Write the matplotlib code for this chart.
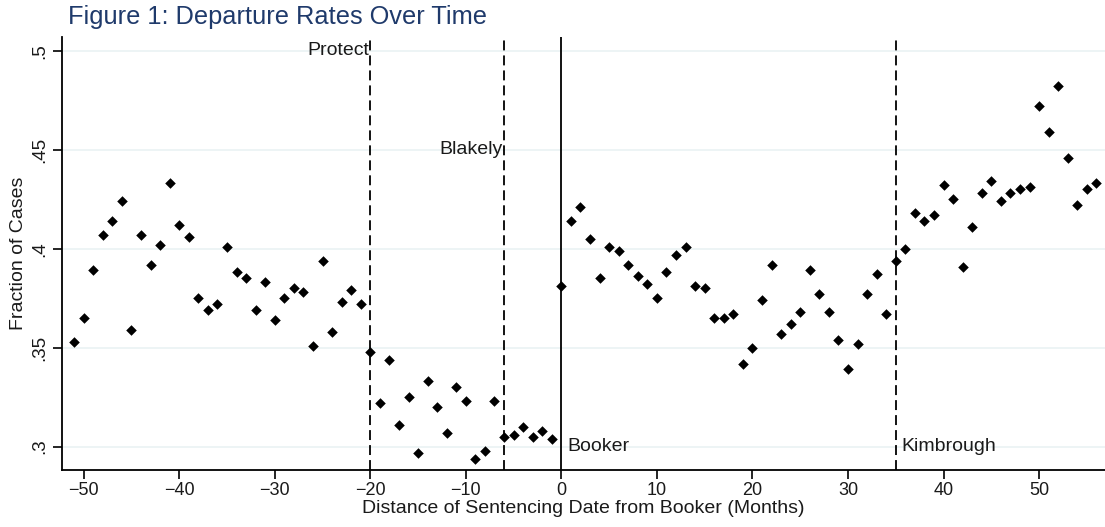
import matplotlib
matplotlib.use("Agg")
import matplotlib.pyplot as plt

plt.rcParams['font.family'] = ['Liberation Sans', 'DejaVu Sans']

months = list(range(-51, 57))
fraction = [
    0.353, 0.365, 0.389, 0.407, 0.414, 0.424, 0.359, 0.407, 0.392, 0.402,   # -51..-42
    0.433, 0.412, 0.406, 0.375, 0.369, 0.372, 0.401, 0.388, 0.385, 0.369,   # -41..-32
    0.383, 0.364, 0.375, 0.380, 0.378, 0.351, 0.394, 0.358, 0.373, 0.379,   # -31..-22
    0.372, 0.348, 0.322, 0.344, 0.311, 0.325, 0.297, 0.333, 0.320, 0.307,   # -21..-12
    0.330, 0.323, 0.294, 0.298, 0.323, 0.305, 0.306, 0.310, 0.305, 0.308,   # -11..-2
    0.304, 0.381, 0.414, 0.421, 0.405, 0.385, 0.401, 0.399, 0.392, 0.386,   # -1..8
    0.382, 0.375, 0.388, 0.397, 0.401, 0.381, 0.380, 0.365, 0.365, 0.367,   # 9..18
    0.342, 0.350, 0.374, 0.392, 0.357, 0.362, 0.368, 0.389, 0.377, 0.368,   # 19..28
    0.354, 0.339, 0.352, 0.377, 0.387, 0.367, 0.394, 0.400, 0.418, 0.414,   # 29..38
    0.417, 0.432, 0.425, 0.391, 0.411, 0.428, 0.434, 0.424, 0.428, 0.430,   # 39..48
    0.431, 0.472, 0.459, 0.482, 0.446, 0.422, 0.430, 0.433,                 # 49..56
]

events = ["Protect", "Blakely", "Booker", "Kimbrough"]
event_months = [-20, -6, 0, 35]
event_styles = ["dashed", "dashed", "solid", "dashed"]
event_label_y = [0.5, 0.45, 0.3, 0.3]
event_label_side = ["left", "left", "right", "right"]

yticks = [0.3, 0.35, 0.4, 0.45, 0.5]
ytick_labels = [".3", ".35", ".4", ".45", ".5"]
xticks = [-50, -40, -30, -20, -10, 0, 10, 20, 30, 40, 50]

fig = plt.figure(figsize=(11.05, 5.27), dpi=100)
ax = fig.add_axes([61.7 / 1105, 1 - 470 / 527, (1105 - 61.7) / 1105, (470 - 37.3) / 527])

ax.set_xlim(-52.3, 56.9)
ax.set_ylim(0.2882, 0.5068)

for y in yticks:
    ax.axhline(y, color="#eaf2f3", lw=1.2, zorder=0)

for m, st in zip(event_months, event_styles):
    if st == "dashed":
        ax.axvline(m, color="black", lw=1.3, ls=(0, (5.5, 2.8)), zorder=1)
    else:
        ax.axvline(m, color="black", lw=1.3, zorder=1)

ax.scatter(months, fraction, marker="D", s=29, color="black", zorder=3, linewidths=0)

for name, m, yl, side in zip(events, event_months, event_label_y, event_label_side):
    if side == "left":
        ax.text(m - 0.15, yl, name, ha="right", va="center", fontsize=14, color="#1a1a1a")
    else:
        ax.text(m + 0.6, yl, name, ha="left", va="center", fontsize=14, color="#1a1a1a")

ax.set_yticks(yticks)
ax.set_yticklabels(ytick_labels, rotation=90, va="center", fontsize=13.5, color="#1a1a1a")
ax.set_xticks(xticks)
ax.set_xticklabels([("\u2212" + str(-x)) if x < 0 else str(x) for x in xticks], fontsize=13, color="#1a1a1a")
ax.tick_params(axis="both", direction="out", length=6.5, width=1.2, color="black")
ax.tick_params(axis="y", pad=3)
ax.tick_params(axis="x", pad=2)

ax.spines["top"].set_visible(False)
ax.spines["right"].set_visible(False)
ax.spines["left"].set_linewidth(1.3)
ax.spines["bottom"].set_linewidth(1.3)

ax.set_xlabel("Distance of Sentencing Date from Booker (Months)", fontsize=14, color="#1a1a1a", labelpad=1)
ax.set_ylabel("Fraction of Cases", fontsize=14, color="#1a1a1a", labelpad=3)

fig.text(68 / 1105, 1 - 17 / 527, "Figure 1: Departure Rates Over Time", fontsize=18.3,
         color="#1f3a6b", ha="left", va="center")

fig.savefig("out.png", dpi=100)
